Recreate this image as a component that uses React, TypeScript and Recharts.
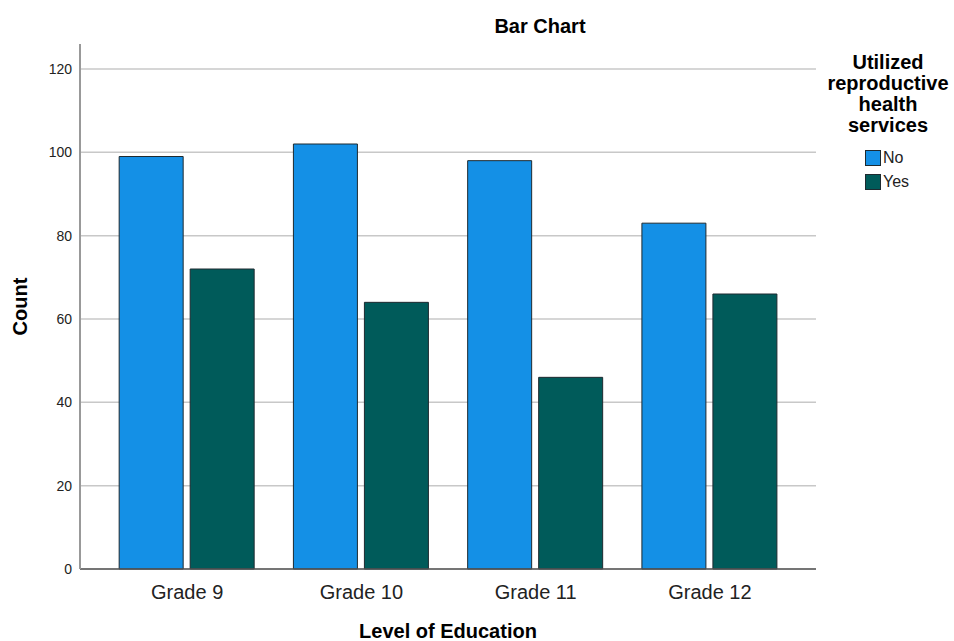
import React from 'react';
import { BarChart, Bar, CartesianGrid, XAxis, YAxis, Label } from 'recharts';

const grades = ['Grade 9', 'Grade 10', 'Grade 11', 'Grade 12'];
const noCounts = [99, 102, 98, 83];
const yesCounts = [72, 64, 46, 66];
const yTicks = [0, 20, 40, 60, 80, 100, 120];

const chartData = grades.map((grade, i) => ({ grade, no: noCounts[i], yes: yesCounts[i] }));

const FONT = '"Liberation Sans", Arial, sans-serif';
const NO_COLOR = '#1490e6';
const YES_COLOR = '#005b5a';

const App: React.FC = () => {
    return (
        <div style={{ position: 'absolute', left: 0, top: 0, width: 954, height: 641, background: '#fff', fontFamily: FONT }}>
            <div style={{ position: 'absolute', left: 440, top: 15, width: 200, textAlign: 'center', fontSize: 20, fontWeight: 'bold', color: '#000' }}>
                Bar Chart
            </div>
            <BarChart
                width={954}
                height={641}
                data={chartData}
                margin={{ top: 44, right: 138, left: 0, bottom: 0 }}
                barCategoryGap="11%"
                barGap={7}
            >
                <CartesianGrid vertical={false} horizontalValues={yTicks} stroke="#c8c8c8" strokeWidth={1.5} />
                <XAxis
                    dataKey="grade"
                    padding={{ left: 20, right: 19 }}
                    axisLine={{ stroke: '#555', strokeWidth: 1.5 }}
                    tickLine={false}
                    tick={{ fill: '#222', fontSize: 20, fontFamily: FONT }}
                    tickMargin={10}
                    height={72}
                >
                    <Label value="Level of Education" position="insideBottom" offset={3} style={{ fontSize: 20, fontWeight: 'bold', fill: '#000', fontFamily: FONT }} />
                </XAxis>
                <YAxis
                    domain={[0, 126]}
                    ticks={yTicks}
                    width={80}
                    axisLine={{ stroke: '#999', strokeWidth: 2 }}
                    tickLine={false}
                    tick={{ fill: '#222', fontSize: 14, fontFamily: FONT }}
                    tickMargin={2}
                    interval={0}
                >
                    <Label value="Count" angle={-90} position="insideLeft" offset={20} style={{ fontSize: 20, fontWeight: 'bold', fill: '#000', fontFamily: FONT, textAnchor: 'middle' }} />
                </YAxis>
                <Bar dataKey="no" name="No" fill={NO_COLOR} stroke="#1e2a30" strokeWidth={1} isAnimationActive={false} />
                <Bar dataKey="yes" name="Yes" fill={YES_COLOR} stroke="#1e2a30" strokeWidth={1} isAnimationActive={false} />
            </BarChart>
            <div style={{ position: 'absolute', left: 814, top: 52, width: 148, textAlign: 'center', fontSize: 20, fontWeight: 'bold', lineHeight: '21px', color: '#000' }}>
                Utilized<br />reproductive<br />health<br />services
            </div>
            <div style={{ position: 'absolute', left: 865, top: 146, fontSize: 16, color: '#222' }}>
                {[{ label: 'No', color: NO_COLOR }, { label: 'Yes', color: YES_COLOR }].map(item => (
                    <div key={item.label} style={{ display: 'flex', alignItems: 'center', height: 24 }}>
                        <span style={{ display: 'inline-block', width: 14, height: 14, background: item.color, border: '1px solid #1e2a30', marginRight: 2 }} />
                        {item.label}
                    </div>
                ))}
            </div>
        </div>
    );
};

export default App;
